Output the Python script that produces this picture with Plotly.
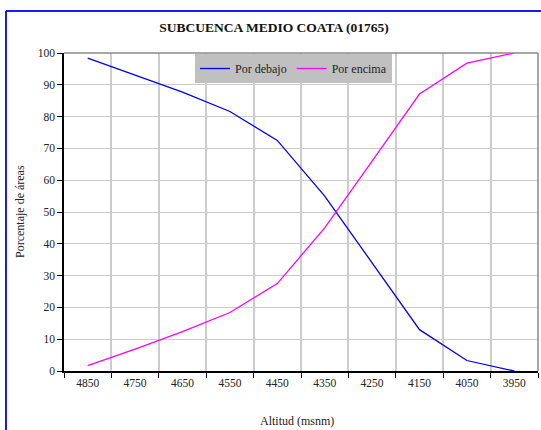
import plotly.graph_objects as go

altitudes = ["4850", "4750", "4650", "4550", "4450", "4350", "4250", "4150", "4050", "3950"]
por_debajo = [98.4, 93.1, 87.7, 81.6, 72.5, 55.0, 34.0, 13.0, 3.3, 0.0]
por_encima = [1.7, 6.9, 12.4, 18.4, 27.5, 45.0, 66.0, 87.1, 96.8, 100.0]

FONT = "Liberation Serif"
W, H = 541, 430
L, R, T, B = 64, 3, 53, 59
pw = W - L - R
ph = H - T - B

def px_x(x):
    return (x - L) / pw

def px_y(y):
    return (H - B - y) / ph

fig = go.Figure()
fig.add_trace(go.Scatter(x=altitudes, y=por_debajo, mode="lines", name="Por debajo",
                         line=dict(color="#0000ff", width=1.3)))
fig.add_trace(go.Scatter(x=altitudes, y=por_encima, mode="lines", name="Por encima",
                         line=dict(color="#ff00ff", width=1.3)))

fig.update_layout(
    width=W, height=H,
    margin=dict(l=L, r=R, t=T, b=B),
    paper_bgcolor="white", plot_bgcolor="white",
    font=dict(family=FONT, size=11.5, color="#222222"),
    title=dict(text="<b>SUBCUENCA MEDIO COATA (01765)</b>", x=274 / W, xanchor="center",
               y=1 - 27 / H, yanchor="middle", xref="container", yref="container",
               font=dict(family=FONT, size=13.5, color="#111111")),
    showlegend=True,
    legend=dict(orientation="h", x=px_x(195), y=px_y(54), xanchor="left", yanchor="top",
                bgcolor="#c0c0c0", font=dict(family=FONT, size=12, color="#222222"),
                borderwidth=0, tracegroupgap=0, itemwidth=30),
    xaxis=dict(type="category", categoryorder="array", categoryarray=altitudes,
               range=[-0.5, 9.5], tickson="boundaries", ticks="outside", ticklen=5,
               tickcolor="#000000", showline=True, linecolor="#000000", linewidth=1.5,
               showgrid=True, gridcolor="#cccccc", gridwidth=1.5, zeroline=False,
               tickfont=dict(family=FONT, size=11.5)),
    yaxis=dict(range=[0, 100], dtick=10, tick0=0, ticks="outside", ticklen=5,
               tickcolor="#000000", showline=True, linecolor="#000000", linewidth=1.5,
               showgrid=True, gridcolor="#cccccc", gridwidth=1.2, zeroline=False,
               tickfont=dict(family=FONT, size=11.5)),
    annotations=[
        dict(text="Altitud (msnm)", xref="paper", yref="paper", x=px_x(297), y=px_y(421),
             xanchor="center", yanchor="middle", showarrow=False,
             font=dict(family=FONT, size=12, color="#222222")),
        dict(text="Porcentaje de áreas", xref="paper", yref="paper", x=px_x(20), y=px_y(212),
             xanchor="center", yanchor="middle", showarrow=False, textangle=-90,
             font=dict(family=FONT, size=12, color="#222222")),
    ],
    shapes=[
        dict(type="line", xref="paper", yref="paper", x0=0, x1=1, y0=1, y1=1,
             line=dict(color="#8a8a8a", width=1.5)),
        dict(type="line", xref="paper", yref="paper", x0=1, x1=1, y0=0, y1=1,
             line=dict(color="#8a8a8a", width=1.5)),
        dict(type="line", xref="paper", yref="paper", x0=px_x(6), x1=px_x(6), y0=px_y(440), y1=px_y(11),
             line=dict(color="#1a1aff", width=2)),
        dict(type="line", xref="paper", yref="paper", x0=px_x(6), x1=px_x(560), y0=px_y(11), y1=px_y(11),
             line=dict(color="#1a1aff", width=2)),
    ],
)

fig.write_html("out.html", config={"displayModeBar": False},
               post_script="document.body.style.margin='0';document.body.style.overflow='hidden';")
